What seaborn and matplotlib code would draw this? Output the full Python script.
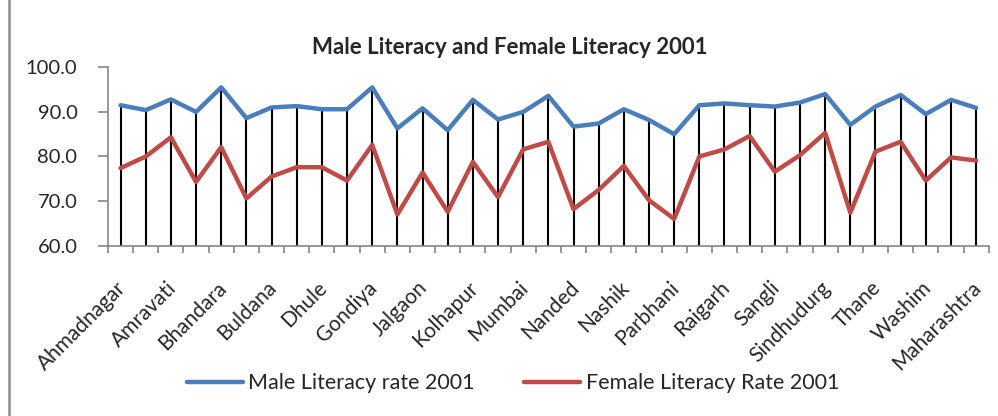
import numpy as np
import pandas as pd
import matplotlib
matplotlib.use("Agg")
import matplotlib.pyplot as plt
from matplotlib.patches import Rectangle
from matplotlib.transforms import ScaledTranslation
import seaborn as sns

# Districts of Maharashtra (only every second name is shown on the axis)
districts = ["Ahmadnagar", "Akola", "Amravati", "Aurangabad", "Bhandara", "Bid",
             "Buldana", "Chandrapur", "Dhule", "Gadchiroli", "Gondiya", "Hingoli",
             "Jalgaon", "Jalna", "Kolhapur", "Latur", "Mumbai", "Nagpur",
             "Nanded", "Nandurbar", "Nashik", "Osmanabad", "Parbhani", "Pune",
             "Raigarh", "Ratnagiri", "Sangli", "Satara", "Sindhudurg", "Solapur",
             "Thane", "Wardha", "Washim", "Yavatmal", "Maharashtra"]

male_2001 = [91.5, 90.4, 92.8, 90.0, 95.5, 88.6, 91.0, 91.3, 90.6, 90.6,
             95.5, 86.3, 90.8, 85.9, 92.7, 88.3, 90.0, 93.6, 86.7, 87.4,
             90.6, 88.2, 85.0, 91.5, 91.9, 91.5, 91.2, 92.1, 94.0, 87.1,
             91.2, 93.8, 89.5, 92.7, 90.9]

female_2001 = [77.4, 80.0, 84.3, 74.3, 82.1, 70.6, 75.5, 77.6, 77.6, 74.6,
               82.6, 67.0, 76.4, 67.6, 78.8, 70.9, 81.6, 83.3, 68.2, 72.5,
               77.9, 70.2, 66.0, 80.0, 81.6, 84.6, 76.6, 80.3, 85.3, 67.4,
               81.1, 83.3, 74.6, 79.8, 79.1]

series_names = ["Male Literacy rate 2001", "Female Literacy Rate 2001"]
y_ticks = [60, 70, 80, 90, 100]

sns.set_theme(style="white")
plt.rcParams["font.family"] = ["Lato", "DejaVu Sans"]

df = pd.DataFrame({
    "district": districts * 2,
    "rate": male_2001 + female_2001,
    "series": [series_names[0]] * len(districts) + [series_names[1]] * len(districts),
})

fig = plt.figure(figsize=(9.98, 4.16), dpi=100)
ax = fig.add_axes([0.1082, 0.4094, 0.8825, 0.4288])

# drop lines from the top series down to the axis
ax.vlines(districts, 60, male_2001, color="black", linewidth=1.5, zorder=1)

sns.lineplot(data=df, x="district", y="rate", hue="series", sort=False,
             palette=["#4A7EBB", "#BE4B48"], linewidth=3.2, ax=ax,
             legend=False, zorder=2)

ax.set_xlim(-0.5, len(districts) - 0.5)
ax.set_ylim(60, 100)
ax.set_yticks(y_ticks)
ax.set_yticklabels([f"{v:.1f}" for v in y_ticks])
ax.set_xlabel("")
ax.set_ylabel("")

# category labels: every second one
ax.set_xticks(range(0, len(districts), 2))
ax.set_xticklabels(districts[::2], rotation=45, ha="right", rotation_mode="anchor")
ax.set_xticks(np.arange(-0.5, len(districts), 1), minor=True)
ax.tick_params(axis="x", which="major", length=0, pad=23, labelsize=15)
ax.tick_params(axis="x", which="minor", length=5, width=1.2, color="#868686",
               direction="out", bottom=True)
ax.tick_params(axis="y", length=7, width=1.2, color="#868686", direction="out",
               pad=15, labelsize=14.5, left=True)

# nudge rotated labels a little to the left
shift = ScaledTranslation(-0.05, 0, fig.dpi_scale_trans)
for lbl in ax.get_xticklabels():
    lbl.set_transform(lbl.get_transform() + shift)

for side in ["top", "right"]:
    ax.spines[side].set_visible(False)
for side in ["left", "bottom"]:
    ax.spines[side].set_color("#868686")
    ax.spines[side].set_linewidth(1.2)

fig.text(0.511, 0.887, "Male Literacy and Female Literacy 2001", ha="center",
         va="center", fontsize=16, fontweight="bold")

handles = [plt.Line2D([], [], color="#4A7EBB", linewidth=3.2),
           plt.Line2D([], [], color="#BE4B48", linewidth=3.2)]
fig.legend(handles, series_names, loc="center", bbox_to_anchor=(0.514, 0.079),
           ncol=2, frameon=False, fontsize=15.5, handlelength=2.6,
           handletextpad=0.25, columnspacing=2.3)

# chart area border
fig.patches.append(Rectangle((0.0088, -0.2), 1.2, 1.2 + 0.9736, transform=fig.transFigure,
                             fill=False, edgecolor="#8C8C8C", linewidth=1.8))

fig.savefig("out.png", dpi=100)
